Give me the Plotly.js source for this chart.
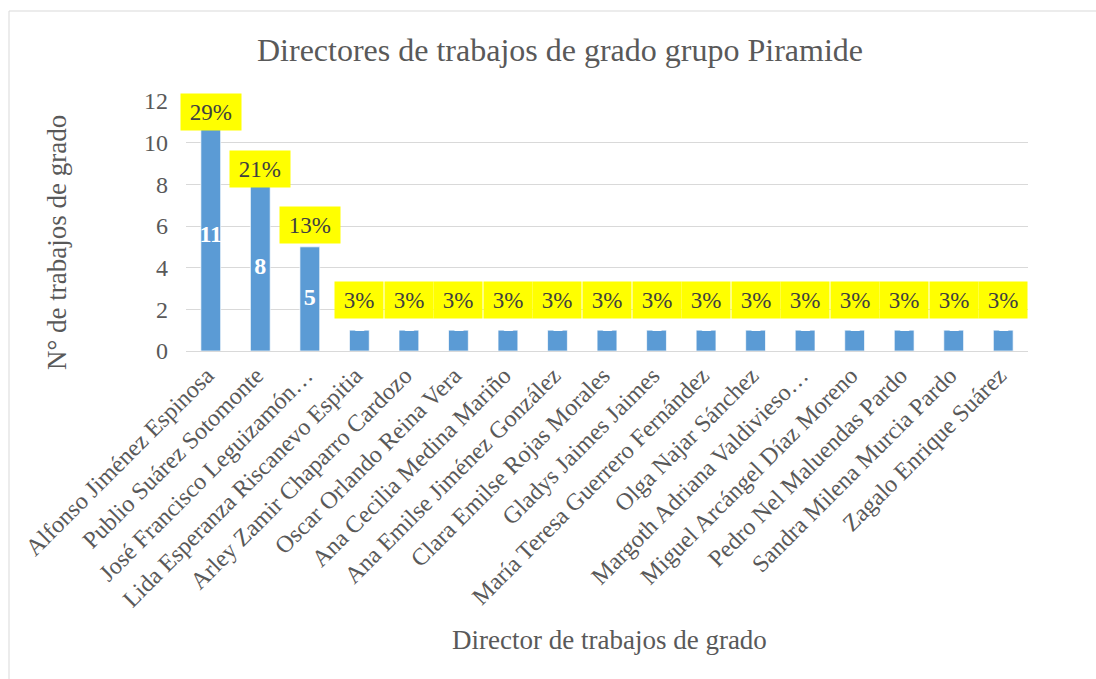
<!DOCTYPE html>
<html>
<head>
<meta charset="utf-8">
<script src="https://cdn.plot.ly/plotly-3.0.1.min.js"></script>
<style>html,body{margin:0;padding:0;background:#fff;}#chart{width:1096px;height:679px;}</style>
</head>
<body>
<div id="chart"></div>
<script>
const directors = [
  "Alfonso Jiménez Espinosa",
  "Publio Suárez Sotomonte",
  "José Francisco Leguizamón…",
  "Lida Esperanza Riscanevo Espitia",
  "Arley Zamir Chaparro Cardozo",
  "Oscar Orlando Reina Vera",
  "Ana Cecilia Medina Mariño",
  "Ana Emilse Jiménez González",
  "Clara Emilse Rojas Morales",
  "Gladys Jaimes Jaimes",
  "María Teresa Guerrero Fernández",
  "Olga Najar Sánchez",
  "Margoth Adriana Valdivieso…",
  "Miguel Arcángel Díaz Moreno",
  "Pedro Nel Maluendas Pardo",
  "Sandra Milena Murcia Pardo",
  "Zagalo Enrique Suárez"
];
const trabajos = [11, 8, 5, 1, 1, 1, 1, 1, 1, 1, 1, 1, 1, 1, 1, 1, 1];
const yTicks = [0, 2, 4, 6, 8, 10, 12];

const total = trabajos.reduce((a, b) => a + b, 0);
const FONT = "Liberation Serif";
const GREY = "#595959";

const bars = {
  type: "bar",
  x: directors,
  y: trabajos,
  marker: { color: "#5B9BD5", line: { color: "rgba(255,255,255,0.7)", width: 1 } },
  hoverinfo: "x+y",
  showlegend: false
};

const inner = {
  type: "scatter",
  mode: "text",
  x: directors,
  y: trabajos.map(v => Math.max(v / 2, 1.25)),
  text: trabajos.map(String),
  textfont: { family: FONT, size: 24, color: "#FFFFFF", weight: "bold" },
  textposition: "middle center",
  hoverinfo: "skip",
  showlegend: false,
  cliponaxis: false
};

const annotations = directors.map((d, i) => ({
  x: d,
  y: 1.56 + 0.9 * trabajos[i],
  xref: "x",
  yref: "y",
  yanchor: "middle",
  text: "\u00a0" + Math.round(trabajos[i] / total * 100) + "%\u00a0",
  showarrow: false,
  bgcolor: "#FFFF00",
  borderpad: 3,
  height: 30,
  valign: "middle",
  font: { family: FONT, size: 23, color: "#404040" }
}));

annotations.push({
  text: "N° de trabajos de grado",
  xref: "paper", yref: "paper",
  x: (57 - 186) / 842, y: (351 - 243) / 250,
  xanchor: "center", yanchor: "middle",
  textangle: -90,
  showarrow: false,
  font: { family: FONT, size: 27, color: GREY }
});
annotations.push({
  text: "Director de trabajos de grado",
  xref: "paper", yref: "paper",
  x: (609 - 186) / 842, y: (351 - 640) / 250,
  xanchor: "center", yanchor: "middle",
  showarrow: false,
  font: { family: FONT, size: 27, color: GREY }
});

const layout = {
  width: 1096,
  height: 679,
  paper_bgcolor: "#FFFFFF",
  plot_bgcolor: "#FFFFFF",
  margin: { l: 186, r: 68, t: 101, b: 328 },
  bargap: 0.6,
  title: {
    text: "Directores de trabajos de grado grupo Piramide",
    font: { family: FONT, size: 32, color: GREY },
    x: 560 / 1096,
    xanchor: "center",
    xref: "container",
    yref: "container",
    y: 1 - 50 / 679,
    yanchor: "middle"
  },
  xaxis: {
    type: "category",
    range: [-0.5, directors.length - 0.5],
    tickangle: -45,
    tickfont: { family: FONT, size: 24, color: GREY },
    ticklabelshift: -4,
    showgrid: false,
    showline: true,
    linecolor: "#D9D9D9",
    linewidth: 1,
    ticks: "",
    automargin: false
  },
  yaxis: {
    range: [0, 12],
    tickvals: yTicks,
    ticktext: yTicks.map(String),
    tickfont: { family: FONT, size: 24, color: GREY },
    showgrid: true,
    gridcolor: "#D9D9D9",
    gridwidth: 1,
    zeroline: false,
    showline: false,
    ticks: "",
    ticklabelstandoff: 17,
    automargin: false
  },
  annotations: annotations,
  shapes: [{
    type: "rect",
    xref: "paper", yref: "paper",
    x0: (9 - 186) / 842, x1: 2,
    y0: -3, y1: (351 - 11) / 250,
    line: { color: "#D9D9D9", width: 1 },
    fillcolor: "rgba(0,0,0,0)",
    layer: "below"
  }]
};

Plotly.newPlot("chart", [bars, inner], layout, { displayModeBar: false, staticPlot: true });
</script>
</body>
</html>
